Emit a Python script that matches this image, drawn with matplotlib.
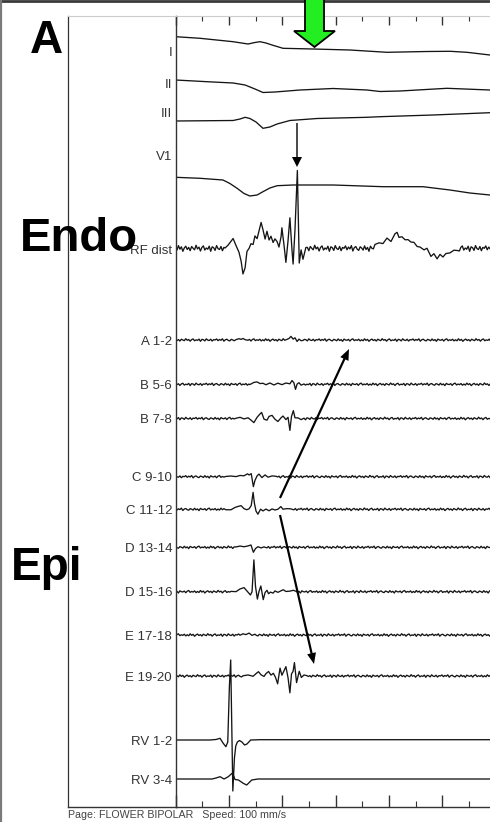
"""
Flower-catheter bipolar electrograms (Endo RF dist vs Epi A-E, RV) with surface leads.
Recreated as a static figure -> out.png
"""

import numpy as np
import matplotlib
matplotlib.use("Agg")
import matplotlib.pyplot as plt
from matplotlib.ticker import MultipleLocator, NullFormatter

plt.rcParams["font.family"] = ["Liberation Sans", "DejaVu Sans"]

# ── Layout (pixels) ──
W, H, DPI = 490, 822, 100
X_AXIS = 175.5          # left edge of the tracing (t = 0)
X_FRAME = 68            # outer frame line
Y_TOP, Y_BOT = 16, 806.7
MS_PER_PX = 0.375       # 100 mm/s paper speed -> 10 ms per minor tick
T_END = (W - X_AXIS) * MS_PER_PX

I_T = [0, 9.2, 21.6, 27.2, 29.8, 31.7, 33.9, 36.2, 40.3, 51.6, 65.4, 79.3, 94.3, 103.0, 109.3, 117.9]
I_A = [0.3, -1.3, -4.7, -7.0, -5.5, -4.7, -6.0, -8.0, -11.3, -12.0, -13.0, -15.3, -14.5, -14.3, -15.3, -18.0]

II_T = [0, 11.8, 21.6, 26.1, 29.8, 32.8, 37.3, 46.7, 59.1, 71.8, 76.7, 84.2, 101.8, 117.9]
II_A = [0, -1.7, -3, -5, -9, -12.5, -12, -10, -8.5, -10, -11.5, -11, -8.3, -10]

III_T = [0, 21.6, 24.2, 26.1, 27.9, 30.2, 32.8, 35.4, 38.1, 42.9, 53.1, 71.8, 76.7, 96.6, 117.9]
III_A = [0, 0.5, 2, 3.7, 2.5, -1, -7.3, -6, -3, 0.5, 2.5, 3.7, 4.3, 6, 8.3]

V1_T = [0, 9.2, 17.8, 20.4, 23.1, 25.7, 27.9, 30.6, 32.8, 35.4, 38.1, 44.1, 59.1, 77.8, 92.8, 102.9, 110.4, 117.9]
V1_A = [0, -1, -2.7, -6.2, -11, -16.2, -18.7, -17.7, -14.4, -10.7, -8.4, -7.7, -7.7, -9.4, -9.4, -12.7, -15.7, -17.7]

RF_T1 = [18.6, 19.7, 21.6, 22.7, 23.8, 24.6, 25.3, 26.1, 26.8, 27.6, 28.3, 29.1, 29.8, 30.6, 31.3,
         32.1, 32.8, 33.6, 34.3, 35.1, 35.8, 36.6, 37.3, 38.1, 38.8, 39.6, 39.9, 40.7, 41.4, 42.2,
         42.9, 43.7, 44.1, 44.8, 45.7, 46.4, 47.1, 47.8, 48.9]
RF_A1 = [0.3, 2.3, 10.3, 2.3, -3.7, -13.7, -24.7, -19.7, -3.7, 0.3, 5.3, 3.3, 12.3, 10.3, 16.3,
         26.3, 18.3, 10.3, 16.3, 8.3, 12.3, 5.3, 10.3, 6.3, 0.3, 12.3, 20.3, 3.3, -14.7, 8.3,
         30.3, -1.7, -16.7, 18.3, 77.3, -13.7, -1.7, -11.7, 1.3]
RF_T2 = [74.8, 76.3, 77.8, 79.3, 80.8, 82.3, 83.1, 83.8, 84.9, 86.1, 87.2, 88.3, 89.4, 90.6, 91.7,
         93.2, 94.3, 95.8, 96.9, 98.1, 99.2, 100.3, 101.4, 102.9, 104.4, 105.9]
RF_A2 = [3.3, 6.3, 4.3, 9.3, 7.3, 14.3, 16.3, 10.3, 12.3, 8.3, 9.3, 5.3, 6.3, 1.3, 2.3,
         -1.7, -0.7, -7.7, -5.7, -9.7, -6.7, -8.7, -4.7, -5.7, -1.7, -2.7]

A12_T1 = [22.7, 23.8, 24.6, 25.3, 26.1]
A12_A1 = [0, 1.5, 0.5, 2, 0]
A12_T2 = [41.4, 42.6, 43.3, 44.1, 44.8, 45.6, 46.3, 47.1, 47.8]
A12_A2 = [0, 2, 3.5, 0.5, 2.5, -1.5, 1, -1, 0]

B56_T = [27.9, 29.4, 30.6, 31.7, 32.8, 33.9, 35.4, 36.9, 38.4, 39.9, 41.4, 42.9, 43.7, 44.4, 45.0, 45.6, 46.3, 47.1, 48.2]
B56_A = [0, 1.5, 2.5, 0.5, 1.5, -0.5, 1, -0.5, 1, 0, 1, 0.5, 4, 1, -5, 0, 2, -1, 0]

B78_T = [22.7, 24.2, 25.7, 27.2, 28.3, 29.4, 30.6, 31.7, 32.3, 33.2, 34.3, 35.1, 36.2, 37.3, 38.4,
         39.6, 40.3, 41.4, 42.2, 42.9, 43.5, 44.2, 44.8, 46.0, 47.1, 48.2]
B78_A = [0, 1.5, -0.5, 1, -2, -4, 1, 5, 6, -1, -1.5, 2, 3.5, -1, -3,
         1, 2, -1, 1, -11.5, 2, 7.5, 1, 0.5, -1, 0]

C910_T = [18.9, 20.8, 22.7, 24.2, 25.7, 27.0, 27.6, 28.4, 29.2, 29.8, 30.6, 31.3, 32.4, 33.6, 34.7, 36.2, 37.7]
C910_A = [0, 1, 0, 1.5, 0.5, 3, 1.5, 3.5, -10, -4, 1, 2.5, -0.5, 1.5, -0.5, 1, 0]

C1112_T = [18.9, 20.8, 22.3, 23.4, 24.6, 25.7, 26.7, 27.6, 28.4, 29.1, 29.6, 30.2, 30.9, 31.9, 32.8,
           33.9, 35.1, 36.2, 37.3, 38.4, 39.5, 40.3, 41.8, 43.3]
C1112_A = [0, -0.5, 1.5, 3, 3.5, 1, -0.7, 0.5, 4, 16.5, 6, -2, -4.5, 0, -2,
           0.5, -1.5, 0.5, -1, 0.5, 2.5, 0, 1, 0]

D1314_T = [22.7, 24.2, 25.7, 27.2, 28.3, 29.2, 30.0, 30.9, 32.1, 33.2]
D1314_A = [0, 1.5, 0.5, 1.5, 2, -4.5, -1.5, 0.5, -0.3, 0]

D1516_T = [20.8, 22.7, 24.2, 25.7, 26.8, 28.1, 28.7, 29.4, 30.0, 30.7, 31.3, 32.0, 32.4, 32.9, 33.6,
           34.3, 34.9, 35.6, 36.6, 37.3, 38.4, 40.4, 41.4, 42.9, 44.2, 45.2]
D1516_A = [0, 0.5, 2.5, 4, 1, -3.7, 0, 32, 5, -7, 0, 5.7, -1, -7.7, -1,
           1.5, -2.5, 0, -1.5, 0.5, -0.5, 2.3, 0, 0.5, 1.7, 0]

E1718_T = [24.2, 25.3, 26.4, 27.6, 28.7]
E1718_A = [0, 1, 0.5, 1.5, 0]

E1920_T = [25.3, 27.2, 29.1, 30.2, 31.1, 32.1, 33.2, 33.9, 34.9, 35.8, 36.7, 37.5, 38.3, 39.2, 39.9,
           40.5, 41.4, 42.2, 42.9, 43.5, 44.1, 44.6, 45.4, 46.4, 47.2, 48.2, 49.3]
E1920_A = [0, 1, 0, 2, 4.5, 1, 0, 2, 4.5, 1, 2.5, -1, -8, 7.5, 1,
           4, 9.5, -2, -16.5, 2, 5, 13, -6.5, 4.5, -1, 1, 0]

RV12_T = [0, 12.9, 15.2, 16.7, 17.9, 18.9, 19.6, 20.2, 20.7, 21.5, 22.1, 22.6, 23.2, 24.0, 24.9, 25.9, 26.8, 28.2, 31.7, 117.9]
RV12_A = [0, 0, 0.5, 1.7, -3.3, -6.7, -2, 53, 80, -51, -18, -6, -2, -0.5, -2, -5, -4, 0, 0.3, 0.3]

RV34_T = [0, 13.7, 15.2, 16.7, 18.2, 19.8, 21.1, 21.7, 22.3, 23.6, 25.4, 26.7, 28.6, 30.9, 117.9]
RV34_A = [0, 0, 1, 2.3, 0, 2.3, 5.5, 4.0, -0.5, -1, -4.3, -6, -1, 0, 0]

# hand-typed baseline hash texture (recording noise), reused along noisy bipolar channels
NOISE = [0.2, -0.6, 0.9, -0.3, 0.5, -1.0, 0.1, 0.7, -0.4, 0.3, -0.8, 0.6, 0.0, -0.5, 1.0, -0.2,
         0.4, -0.9, 0.3, 0.8, -0.6, 0.1, -0.3, 0.7, -1.0, 0.5, 0.2, -0.7, 0.9, -0.1, -0.4, 0.6,
         -0.8, 0.3, 0.0, 0.8, -0.5, 0.4, -0.2, 0.9, -0.9, 0.2, 0.6, -0.3, -0.7, 0.5, 0.1, -0.6,
         0.8, -0.4, 0.3, -1.0, 0.7, 0.0, -0.2, 0.5, -0.8, 0.4, 0.9, -0.5, 0.2, -0.3, 0.6, -0.7]
NOISE_STEP = 0.55  # ms

# ── Channel table: (label, label row, baseline row, data, noise scale) ──
SMOOTH = [
    ("I", 51, 37, I_T, I_A),
    ("II", 84, 80, II_T, II_A),
    ("III", 112.5, 121, III_T, III_A),
    ("V1", 155, 177.3, V1_T, V1_A),
    ("RV 1-2", 740, 740, RV12_T, RV12_A),
    ("RV 3-4", 779, 779, RV34_T, RV34_A),
]
NOISY = [
    ("RF dist", 249, 248.3, [(RF_T1, RF_A1), (RF_T2, RF_A2)], 3.0),
    ("A 1-2", 340, 340, [(A12_T1, A12_A1), (A12_T2, A12_A2)], 1.3),
    ("B 5-6", 384.3, 384.3, [(B56_T, B56_A)], 1.3),
    ("B 7-8", 418.5, 418.5, [(B78_T, B78_A)], 1.3),
    ("C 9-10", 476.7, 476.7, [(C910_T, C910_A)], 1.3),
    ("C 11-12", 509.3, 509.3, [(C1112_T, C1112_A)], 1.3),
    ("D 13-14", 547.3, 547.3, [(D1314_T, D1314_A)], 1.3),
    ("D 15-16", 591.7, 591.7, [(D1516_T, D1516_A)], 1.3),
    ("E 17-18", 635, 635, [(E1718_T, E1718_A)], 1.3),
    ("E 19-20", 676, 676, [(E1920_T, E1920_A)], 1.3),
]


def noisy_trace(windows, scale, shift):
    """Baseline hash between the read feature windows, feature points inside them."""
    n = len(NOISE)
    ts, ys = [], []
    k, t = shift, 0.0
    for wt, wa in windows:
        while t < wt[0] - 0.5 * NOISE_STEP:
            ts.append(t)
            ys.append(scale * NOISE[k % n])
            k += 1
            t += NOISE_STEP
        for tt, aa in zip(wt, wa):
            ts.append(tt)
            ys.append(aa + 0.35 * scale * NOISE[k % n])
            k += 1
        t = wt[-1] + NOISE_STEP
    while t <= T_END + NOISE_STEP:
        ts.append(t)
        ys.append(scale * NOISE[k % n])
        k += 1
        t += NOISE_STEP
    return np.array(ts), np.array(ys)


fig = plt.figure(figsize=(W / DPI, H / DPI), dpi=DPI)
fig.patch.set_facecolor("white")

# ── Tracing axes: x = ms, y = pixel rows (inverted) ──
ax = fig.add_axes([X_AXIS / W, (H - Y_BOT) / H, (W - X_AXIS) / W, (Y_BOT - Y_TOP) / H], zorder=2)
ax.set_facecolor("none")
ax.set_xlim(0, T_END)
ax.set_ylim(Y_BOT, Y_TOP)
ax.set_yticks([])
for s in ("top", "right"):
    ax.spines[s].set_visible(False)
ax.spines["left"].set_color("#333333")
ax.spines["left"].set_linewidth(1.0)
ax.spines["bottom"].set_color("#333333")
ax.spines["bottom"].set_linewidth(1.0)
ax.xaxis.set_major_locator(MultipleLocator(20))
ax.xaxis.set_minor_locator(MultipleLocator(10))
ax.xaxis.set_major_formatter(NullFormatter())
ax.tick_params(axis="x", which="major", direction="in", length=8.6, width=1.0, color="#333333")
ax.tick_params(axis="x", which="minor", direction="in", length=4.3, width=0.8, color="#333333")

sec = ax.secondary_xaxis("top")
sec.xaxis.set_major_locator(MultipleLocator(20))
sec.xaxis.set_minor_locator(MultipleLocator(10))
sec.xaxis.set_major_formatter(NullFormatter())
sec.xaxis.set_minor_formatter(NullFormatter())
sec.tick_params(axis="x", which="major", direction="in", length=6.5, width=1.0, color="#333333")
sec.tick_params(axis="x", which="minor", direction="in", length=3.6, width=0.8, color="#333333")
sec.spines["top"].set_color("#cccccc")
sec.spines["top"].set_linewidth(0.8)

TRACE_KW = dict(color="#151515", linewidth=0.95, solid_joinstyle="round")

for name, lab_row, base, t, a in SMOOTH:
    ax.plot(t, base - np.asarray(a), **TRACE_KW)

for i, (name, lab_row, base, windows, scale) in enumerate(NOISY):
    t, a = noisy_trace(windows, scale, shift=7 * i)
    ax.plot(t, base - a, **TRACE_KW)

# ── Overlay in pixel coordinates: frame, labels, arrows ──
ov = fig.add_axes([0, 0, 1, 1], zorder=3)
ov.set_facecolor("none")
ov.set_xlim(0, W)
ov.set_ylim(H, 0)
ov.axis("off")

ov.plot([X_FRAME, X_FRAME], [Y_TOP, Y_BOT], color="#333333", lw=0.9)
ov.plot([X_FRAME, X_AXIS], [Y_BOT, Y_BOT], color="#333333", lw=1.0)
ov.plot([X_FRAME, X_AXIS], [Y_TOP, Y_TOP], color="#cccccc", lw=0.8)
ov.plot([0, W], [1.0, 1.0], color="#3a3a3a", lw=2.0)
ov.plot([1.2, 1.2], [0, H], color="#7a7a7a", lw=1.6)

for name, lab_row, *_ in SMOOTH + NOISY:
    ov.text(172, lab_row, name, ha="right", va="center_baseline", fontsize=9.5, color="#333333")

ov.text(30, 52.7, "A", fontsize=33, fontweight="bold", ha="left", va="baseline", color="black")
ov.text(20, 250.7, "Endo", fontsize=34, fontweight="bold", ha="left", va="baseline", color="black")
ov.text(11, 580, "Epi", fontsize=33, fontweight="bold", ha="left", va="baseline", color="black")

ov.text(X_FRAME, 814.5, "Page: FLOWER BIPOLAR   Speed: 100 mm/s", fontsize=7.7,
        color="#444444", ha="left", va="center")

# green marker arrow at the top and black pointer arrows
ov.arrow(314.5, -6, 0, 53, width=19, head_width=41, head_length=16, length_includes_head=True,
         fc="#22ee22", ec="black", lw=1.3, zorder=5)
ov.arrow(297, 123, 0, 44, width=1.4, head_width=10, head_length=10, length_includes_head=True,
         fc="black", ec="none")
ov.arrow(280, 498, 69, -149, width=2.2, head_width=9, head_length=11, length_includes_head=True,
         fc="black", ec="none")
ov.arrow(280, 515, 34, 149, width=2.2, head_width=9, head_length=11, length_includes_head=True,
         fc="black", ec="none")

fig.savefig("out.png", dpi=DPI)
plt.close(fig)
